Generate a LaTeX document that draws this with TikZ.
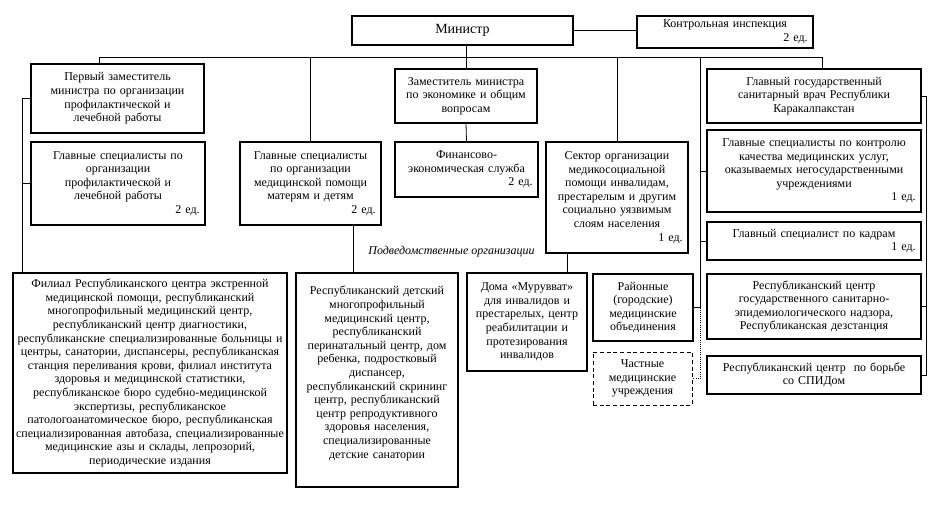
\documentclass[tikz,border=0pt]{standalone}
\usepackage{fontspec}
\setmainfont{Liberation Serif}
\tikzset{
  orgbox/.style={draw, line width=0.8pt, align=center, inner xsep=1pt, inner ysep=2pt,
                 font=\fontsize{9}{10.2}\selectfont},
  privbox/.style={orgbox, densely dashed, line width=0.7pt},
  link/.style={line width=0.6pt},
  dotlink/.style={link, densely dotted},
  note/.style={font=\fontsize{9}{10}\selectfont\itshape, inner sep=1pt},
}
\newcommand{\shtat}[1]{\\\mbox{}\hskip 0pt plus 1filll #1~ед.\kern3pt}
\begin{document}
\begin{tikzpicture}[x=0.75pt, y=-0.75pt]
    \useasboundingbox (0,0) rectangle (938,506);
    % руководство
    \node[orgbox, minimum width=165.75pt, minimum height=21.75pt, font=\fontsize{10.5}{12}\selectfont] (min) at (462.5,30.5) {Министр};
    \node[orgbox, minimum width=132pt, minimum height=24pt, text width=130pt] (insp) at (725,32) {Контрольная инспекция\shtat{2}};
    \node[orgbox, minimum width=129.75pt, minimum height=51.75pt, text width=127.75pt] (dep1) at (117.5,98.5) {Первый заместитель\\министра по организации\\профилактической и\\лечебной работы};
    \node[orgbox, minimum width=106.5pt, minimum height=40.5pt, text width=104.5pt] (dep2) at (466,96) {Заместитель министра\\по экономике и общим\\вопросам};
    \node[orgbox, minimum width=160.5pt, minimum height=40.5pt, text width=158.5pt] (san) at (814,96) {Главный государственный\\санитарный врач Республики\\Каракалпакстан};
    % отделы
    \node[orgbox, minimum width=130.5pt, minimum height=62.25pt, text width=128.5pt] (spec1) at (118,183.5) {Главные специалисты по\\организации\\профилактической и\\лечебной работы\shtat{2}};
    \node[orgbox, minimum width=105.75pt, minimum height=62.25pt, text width=103.75pt] (spec2) at (310.5,183.5) {Главные специалисты\\по организации\\медицинской помощи\\матерям и детям\shtat{2}};
    \node[orgbox, minimum width=107.25pt, minimum height=41.25pt, text width=105.25pt] (fin) at (466.5,169.5) {Финансово-\\экономическая служба\shtat{2}};
    \node[orgbox, minimum width=106.5pt, minimum height=83.25pt, text width=104.5pt] (sect) at (617,197.5) {Сектор организации\\медикосоциальной\\помощи инвалидам,\\престарелым и другим\\социально уязвимым\\слоям населения\shtat{1}};
    \node[orgbox, minimum width=160.5pt, minimum height=61.5pt, text width=158.5pt] (qual) at (814,171) {Главные специалисты по контролю\\качества медицинских услуг,\\оказываемых негосударственными\\учреждениями\shtat{1}};
    \node[orgbox, minimum width=160.5pt, minimum height=28.5pt, text width=158.5pt] (hr) at (814,241) {Главный специалист по кадрам\shtat{1}};
    % подведомственные организации
    \node[note] (sub) at (451.5,252) {Подведомственные организации};
    \node[orgbox, minimum width=205.5pt, minimum height=150pt, text width=203.5pt] (fil) at (150,373) {Филиал Республиканского центра экстренной\\медицинской помощи, республиканский\\многопрофильный медицинский центр,\\республиканский центр диагностики,\\республиканские специализированные больницы и\\центры, санатории, диспансеры, республиканская\\станция переливания крови, филиал института\\здоровья и медицинской статистики,\\республиканское бюро судебно-медицинской\\экспертизы, республиканское\\патологоанатомическое бюро, республиканская\\специализированная автобаза, специализированные\\медицинские азы и склады, лепрозорий,\\периодические издания};
    \node[orgbox, minimum width=121.5pt, minimum height=160.5pt, text width=119.5pt, text depth=134pt] (child) at (377,380) {Республиканский детский\\многопрофильный\\медицинский центр,\\республиканский\\перинатальный центр, дом\\ребенка, подростковый\\диспансер,\\республиканский скрининг\\центр, республиканский\\центр репродуктивного\\здоровья населения,\\специализированные\\детские санатории};
    \node[orgbox, minimum width=90pt, minimum height=73.5pt, text width=88pt] (homes) at (527,322) {Дома «Мурувват»\\для инвалидов и\\престарелых, центр\\реабилитации и\\протезирования\\инвалидов};
    \node[orgbox, minimum width=75pt, minimum height=50.25pt, text width=73pt] (dist) at (643,307.5) {Районные\\(городские)\\медицинские\\объединения};
    \node[privbox, minimum width=74.25pt, minimum height=39.75pt, text width=72.25pt] (priv) at (642.5,378.5) {Частные\\медицинские\\учреждения};
    \node[orgbox, minimum width=160.5pt, minimum height=48.75pt, text width=158.5pt] (sanep) at (814,306.5) {Республиканский центр\\государственного санитарно-\\эпидемиологического надзора,\\Республиканская дезстанция};
    \node[orgbox, minimum width=160.5pt, minimum height=28.5pt, text width=158.5pt] (aids) at (814,375) {Республиканский центр~ по борьбе\\со СПИДом};
    % связи
    \coordinate (busL) at (99,57);
    \coordinate (busR) at (822,57);
    \coordinate (railL) at (700,57);
    \coordinate (railR) at (926,57);
    \coordinate (railF) at (22,57);
    \coordinate (drop2) at (353,57);
    \coordinate (drop3) at (567,57);
    \draw[link] (min.east) -- (min.east -| insp.west);
    \draw[link] (dep2.north |- min.south) -- (dep2.north);
    \draw[link] (busL |- dep1.north) -- (busL) -- (busR) -- (busR |- san.north);
    \draw[link] (spec2.north |- busL) -- (spec2.north);
    \draw[link] (sect.north |- busL) -- (sect.north);
    \draw[link] (dep2.south) -- (fin.north);
    \draw[link] (railL) -- (railL |- dist.east) -- (dist.east);
    \draw[link] (railL |- qual.west) -- (qual.west);
    \draw[link] (railL |- hr.west) -- (hr.west);
    \draw[dotlink] (railL |- dist.east) -- (railL |- priv.east) -- (priv.east);
    \draw[link] (san.east) -- (san.east -| railR) -- (aids.east -| railR) -- (aids.east);
    \draw[link] (sanep.east) -- (sanep.east -| railR);
    \draw[link] (dep1.west) -- (dep1.west -| railF) -- (railF |- fil.north);
    \draw[link] (spec1.west -| railF) -- (spec1.west);
    \draw[link] (spec2.south -| drop2) -- (child.north -| drop2);
    \draw[link] (sect.south -| drop3) -- (homes.north -| drop3);
\end{tikzpicture}
\end{document}
